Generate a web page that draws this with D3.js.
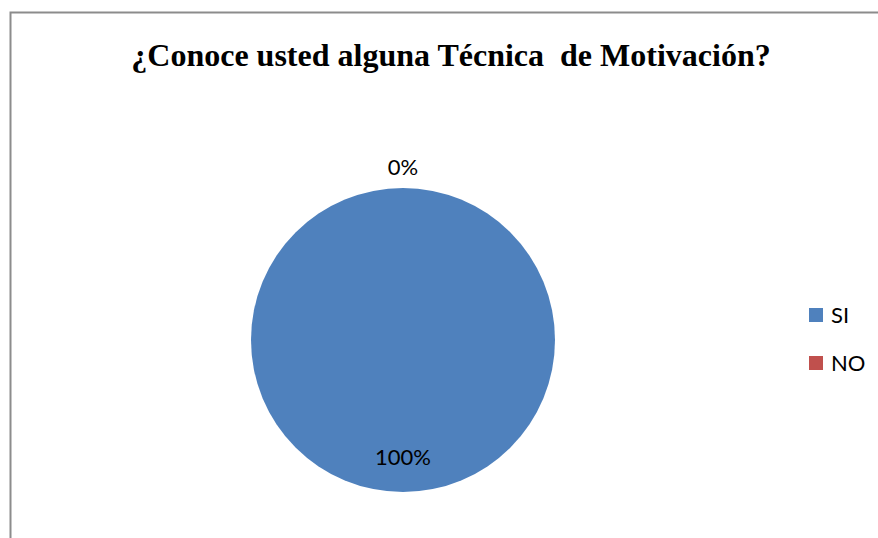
<!DOCTYPE html>
<meta charset="utf-8">
<script src="https://d3js.org/d3.v7.min.js"></script>
<style>
  body { margin: 0; background: #fff; }
</style>
<div id="chart"></div>
<script>
// Datos del gráfico
var categorias = ["SI", "NO"];
var valores = [100, 0];
var colores = ["#4F81BD", "#C0504D"];
var titulo = "¿Conoce usted alguna Técnica\u00a0 de Motivación?";

var width = 878, height = 538;
var svg = d3.select("#chart").append("svg")
  .attr("width", width)
  .attr("height", height);

// Marco del gráfico
svg.append("path")
  .attr("d", "M10.5," + height + "V12.5H" + width)
  .attr("fill", "none")
  .attr("stroke", "#8c8c8c")
  .attr("stroke-width", 2);

// Título
svg.append("text")
  .attr("x", 451)
  .attr("y", 66)
  .attr("text-anchor", "middle")
  .style("font-family", "'Liberation Serif', 'Times New Roman', serif")
  .style("font-weight", "bold")
  .style("font-size", "32px")
  .text(titulo);

var cx = 403, cy = 340, r = 152;
var datos = categorias.map(function(c, i) { return {cat: c, val: valores[i], color: colores[i]}; });
var total = d3.sum(valores);

var pie = d3.pie().sort(null).value(function(d) { return d.val; });
var arc = d3.arc().innerRadius(0).outerRadius(r);
var g = svg.append("g").attr("transform", "translate(" + cx + "," + cy + ")");

g.selectAll("path.slice")
  .data(pie(datos))
  .enter().append("path")
  .attr("class", "slice")
  .attr("d", arc)
  .attr("fill", function(d) { return d.data.color; });

// Etiquetas: dentro si hay porción, fuera si es 0
var arcIn = d3.arc().innerRadius(r * 0.77).outerRadius(r * 0.77);
var arcOut = d3.arc().innerRadius(r + 21).outerRadius(r + 21);
g.selectAll("text.lbl")
  .data(pie(datos))
  .enter().append("text")
  .attr("class", "lbl")
  .attr("transform", function(d) {
    var a = d.endAngle - d.startAngle > 0 ? arcIn : arcOut;
    return "translate(" + a.centroid(d) + ")";
  })
  .attr("dy", "0.35em")
  .attr("text-anchor", "middle")
  .style("font-family", "Lato, 'Noto Sans', sans-serif")
  .style("font-size", "22px")
  .attr("fill", "#000")
  .text(function(d) { return Math.round(d.data.val / total * 100) + "%"; });

// Leyenda
var leyenda = svg.append("g").attr("transform", "translate(809,308)");
var item = leyenda.selectAll("g")
  .data(datos)
  .enter().append("g")
  .attr("transform", function(d, i) { return "translate(0," + (i * 48) + ")"; });
item.append("rect")
  .attr("width", 14).attr("height", 14)
  .attr("fill", function(d) { return d.color; });
item.append("text")
  .attr("x", 22).attr("y", 15)
  .style("font-family", "Lato, 'Noto Sans', sans-serif")
  .style("font-size", "22px")
  .text(function(d) { return d.cat; });
</script>
